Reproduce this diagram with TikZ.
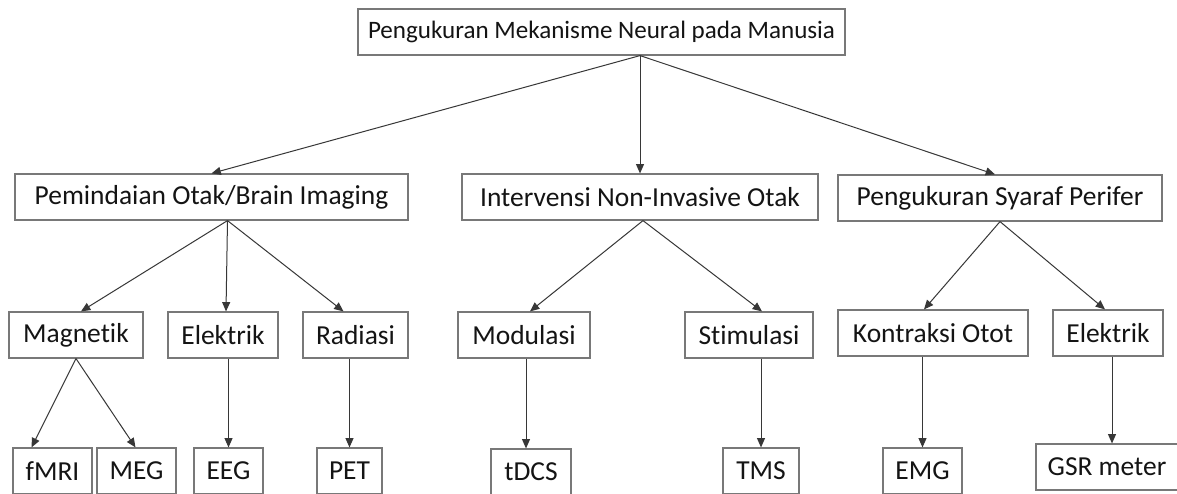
\documentclass[tikz,border=0pt]{standalone}
\usepackage{fontspec}
\setmainfont{Carlito}[Ligatures={NoCommon}]
\usetikzlibrary{arrows.meta,calc}
\tikzset{
  box/.style={draw={rgb,255:red,120;green,120;blue,120}, line width=0.9pt, fill=white, inner sep=0pt,
    font=\fontsize{20.6}{24}\selectfont, text={rgb,255:red,20;green,20;blue,20}},
  arr/.style={draw={rgb,255:red,55;green,55;blue,55}, line width=0.75pt, -{Triangle[length=7pt,width=6pt]}}
}
\newcommand\bx[7][]{\node[box, #1, minimum width={(#5-#3)*0.75pt}, minimum height={(#6-#4)*0.75pt}] (#2) at ({(#3+#5)/2},{(#4+#6)/2}) {#7};}
\begin{document}
\begin{tikzpicture}[x=0.75pt,y=-0.75pt]
\clip (0,0) rectangle (1177,493);
\fill[white] (0,0) rectangle (1177,493);
% level 1
\bx[font=\fontsize{18.8}{22}\selectfont]{top}{358}{9}{845}{55}{Pengukuran Mekanisme Neural pada Manusia}
% level 2
\bx{otak}{15}{174}{408}{220}{Pemindaian Otak/Brain Imaging}
\bx{noninv}{462}{174}{818}{220}{Intervensi Non-Invasive Otak}
\bx{syaraf}{838}{175}{1162}{221}{Pengukuran Syaraf Perifer}
% level 3
\bx{magn}{9}{312}{143}{358}{Magnetik}
\bx{elek}{168}{312}{278}{358}{Elektrik}
\bx{rad}{303}{312}{408}{358}{Radiasi}
\bx{mod}{458}{312}{590}{358}{Modulasi}
\bx{stim}{685}{312}{813}{358}{Stimulasi}
\bx{kontr}{838}{310}{1028}{356}{Kontraksi Otot}
\bx{elekb}{1053}{310}{1163}{356}{Elektrik}
% level 4
\bx{fmri}{13}{448}{92}{494}{fMRI}
\bx{meg}{97}{448}{176}{494}{MEG}
\bx{eeg}{194}{448}{263}{494}{EEG}
\bx{pet}{317}{448}{382}{494}{PET}
\bx{tdcs}{491}{449}{571}{495}{tDCS}
\bx{tms}{723}{448}{799}{494}{TMS}
\bx{emg}{883}{448}{962}{494}{EMG}
\bx{gsr}{1036}{444}{1178}{490}{GSR meter}
% apex points
\coordinate (a0) at (top.south -| noninv.north);
\coordinate (a1) at ($(otak.south)+(16,0)$);
\coordinate (a2) at ($(noninv.south)+(3,0)$);
\coordinate (a3) at (syaraf.south);
\coordinate (a4) at (magn.south);
% level 1 -> 2
\draw[arr] (a0) -- (otak.north);
\draw[arr] (a0) -- (noninv.north);
\draw[arr] (a0) -- ($(syaraf.north)+(-5,0)$);
% level 2 -> 3
\draw[arr] (a1) -- ($(magn.north)+(5,0)$);
\draw[arr] (a1) -- ($(elek.north)+(3,0)$);
\draw[arr] (a1) -- ($(rad.north)+(-12,0)$);
\draw[arr] (a2) -- ($(mod.north)+(6,0)$);
\draw[arr] (a2) -- ($(stim.north)+(13,0)$);
\draw[arr] (a3) -- ($(kontr.north)+(-9,0)$);
\draw[arr] (a3) -- ($(elekb.north)+(-3,0)$);
% level 3 -> 4
\draw[arr] (a4) -- ($(fmri.north)+(-21,0)$);
\draw[arr] (a4) -- ($(meg.north)+(-1,0)$);
\draw[arr] (eeg.north |- elek.south) -- (eeg.north);
\draw[arr] (pet.north |- rad.south) -- (pet.north);
\draw[arr] ($(tdcs.north |- mod.south)+(-5,0)$) -- ($(tdcs.north)+(-5,0)$);
\draw[arr] (tms.north |- stim.south) -- (tms.north);
\draw[arr] (emg.north |- kontr.south) -- (emg.north);
\draw[arr] ($(gsr.north |- elekb.south)+(5,0)$) -- ($(gsr.north)+(5,0)$);
\end{tikzpicture}
\end{document}
